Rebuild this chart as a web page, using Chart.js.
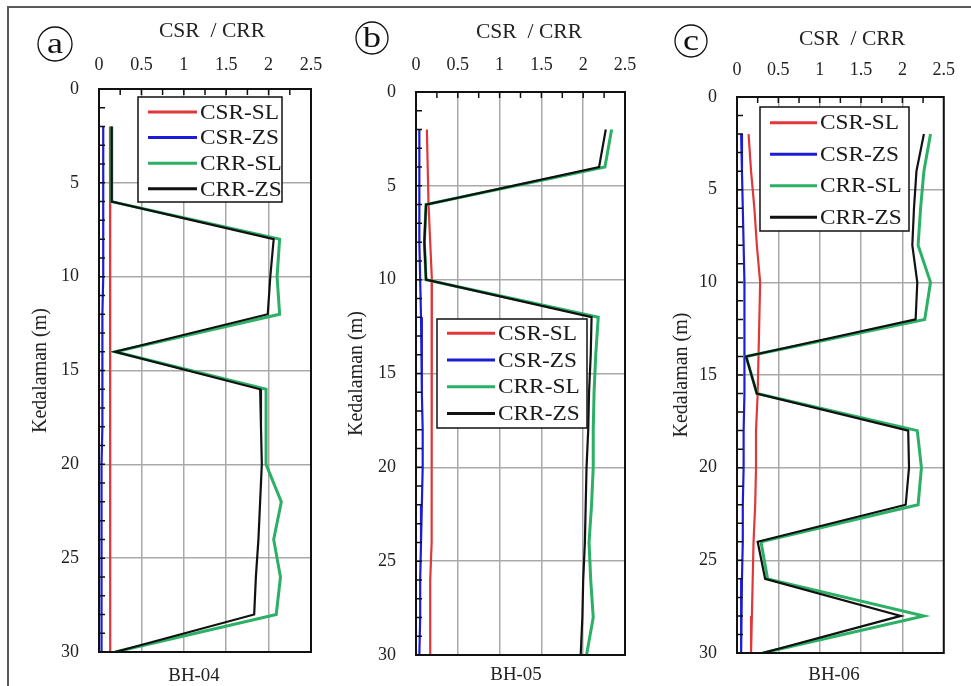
<!DOCTYPE html>
<html>
<head>
<meta charset="utf-8">
<script src="https://cdn.jsdelivr.net/npm/chart.js@4.4.1/dist/chart.umd.min.js"></script>
<style>
  body { margin: 0; background: #fff; }
  #frame { position: absolute; left: 7px; top: 6px; width: 1000px; height: 720px;
           border-top: 2px solid #5a5a5a; border-left: 2px solid #5a5a5a; }
  canvas { position: absolute; left: 0; top: 0; }
</style>
</head>
<body>
<div id="frame"></div>
<canvas id="bh04" width="971" height="686"></canvas>
<canvas id="bh05" width="971" height="686"></canvas>
<canvas id="bh06" width="971" height="686"></canvas>
<script>
// depth (m) of each reading
const depth = [2, 4, 6, 8, 10, 12, 14, 16, 18, 20, 22, 24, 26, 28, 30];
const seriesNames = ['CSR-SL', 'CSR-ZS', 'CRR-SL', 'CRR-ZS'];
const seriesColors = ['#e0383a', '#1c1cd6', '#2bb066', '#111111'];
const seriesWidths = [2.2, 2.2, 3, 2.2];
const seriesOrder = [2, 3, 1, 0];

// BH-04
const bh04CsrSL = [0.13, 0.13, 0.14, 0.14, 0.14, 0.13, 0.13, 0.13, 0.13, 0.13, 0.13, 0.13, 0.13, 0.13, 0.13];
const bh04CsrZS = [0.05, 0.05, 0.05, 0.05, 0.05, 0.04, 0.04, 0.04, 0.04, 0.03, 0.03, 0.03, 0.03, 0.03, 0.03];
const bh04CrrSL = [0.15, 0.15, 0.15, 2.13, 2.10, 2.13, 0.19, 1.97, 1.97, 1.97, 2.15, 2.06, 2.14, 2.09, 0.19];
const bh04CrrZS = [0.15, 0.15, 0.15, 2.06, 2.02, 1.99, 0.19, 1.90, 1.91, 1.92, 1.90, 1.88, 1.85, 1.83, 0.19];

// BH-05
const bh05CsrSL = [0.13, 0.14, 0.15, 0.17, 0.19, 0.19, 0.19, 0.19, 0.19, 0.19, 0.18, 0.18, 0.17, 0.17, 0.17];
const bh05CsrZS = [0.04, 0.04, 0.04, 0.04, 0.05, 0.06, 0.07, 0.07, 0.08, 0.08, 0.07, 0.06, 0.05, 0.05, 0.04];
const bh05CrrSL = [2.34, 2.26, 0.12, 0.10, 0.12, 2.18, 2.15, 2.13, 2.12, 2.12, 2.10, 2.07, 2.09, 2.12, 2.04];
const bh05CrrZS = [2.27, 2.19, 0.12, 0.10, 0.12, 2.10, 2.09, 2.07, 2.06, 2.04, 2.03, 2.02, 2.00, 1.99, 1.97];

// BH-06
const bh06CsrSL = [0.14, 0.17, 0.21, 0.24, 0.28, 0.27, 0.26, 0.25, 0.23, 0.23, 0.22, 0.20, 0.19, 0.18, 0.17];
const bh06CsrZS = [0.05, 0.06, 0.07, 0.08, 0.09, 0.09, 0.09, 0.09, 0.08, 0.08, 0.07, 0.07, 0.06, 0.05, 0.05];
const bh06CrrSL = [2.34, 2.26, 2.22, 2.19, 2.34, 2.27, 0.11, 0.24, 2.18, 2.23, 2.19, 0.29, 0.37, 2.26, 0.31];
const bh06CrrZS = [2.26, 2.17, 2.14, 2.12, 2.18, 2.16, 0.11, 0.24, 2.07, 2.08, 2.04, 0.25, 0.34, 1.98, 0.31];

const serif = "'Liberation Serif', 'Times New Roman', serif";

function stretchText(ctx, text, x, y, sx) {
    ctx.save();
    ctx.translate(x, y);
    ctx.scale(sx, 1);
    ctx.fillText(text, 0, 0);
    ctx.restore();
}

// frame, inward minor ticks, legend box and panel captions
const panelDecor = {
    id: 'panelDecor',
    afterDraw(chart, args, o) {
        const ctx = chart.ctx;
        const a = chart.chartArea;
        const xs = chart.scales.x, ys = chart.scales.y;
        ctx.save();
        ctx.strokeStyle = '#111';
        ctx.lineWidth = 1.5;
        ctx.beginPath();
        for (let v = 0.25; v < 2.5; v += 0.25) {
            const px = xs.getPixelForValue(v);
            ctx.moveTo(px, a.top);
            ctx.lineTo(px, a.top + 6);
        }
        for (let d = 1; d < 30; d++) {
            const py = ys.getPixelForValue(d);
            ctx.moveTo(a.left, py);
            ctx.lineTo(a.left + 6, py);
        }
        ctx.stroke();
        ctx.lineWidth = 2;
        ctx.strokeRect(a.left, a.top, a.right - a.left, a.bottom - a.top);

        // legend
        const lg = o.legend;
        ctx.fillStyle = '#fff';
        ctx.fillRect(lg.x, lg.y, lg.w, lg.h);
        ctx.lineWidth = 1.5;
        ctx.strokeStyle = '#111';
        ctx.strokeRect(lg.x, lg.y, lg.w, lg.h);
        ctx.font = '22px ' + serif;
        ctx.textBaseline = 'middle';
        ctx.textAlign = 'left';
        chart.data.datasets.forEach((ds, i) => {
            const y = lg.y + lg.first + i * lg.gap;
            ctx.strokeStyle = ds.borderColor;
            ctx.lineWidth = 3;
            ctx.beginPath();
            ctx.moveTo(lg.l1, y);
            ctx.lineTo(lg.l2, y);
            ctx.stroke();
            ctx.fillStyle = '#1a1a1a';
            stretchText(ctx, ds.label, lg.tx, y + 1, 1.06);
        });

        // circled panel letter
        const lt = o.letter;
        ctx.strokeStyle = '#111';
        ctx.lineWidth = 1.3;
        ctx.beginPath();
        ctx.arc(lt.x, lt.y, lt.r, 0, Math.PI * 2);
        ctx.stroke();
        ctx.fillStyle = '#111';
        ctx.textAlign = 'center';
        ctx.font = '30px ' + serif;
        stretchText(ctx, lt.ch, lt.x, lt.y + 1, 1.2);

        // axis title and borehole name
        ctx.fillStyle = '#222';
        ctx.font = '20px ' + serif;
        stretchText(ctx, 'CSR  / CRR', o.title.x, o.title.y, 1.08);
        ctx.font = '18px ' + serif;
        stretchText(ctx, o.label.text, o.label.x, o.label.y, 1.05);
        ctx.restore();
    }
};

function makeChart(id, values, p) {
    const datasets = seriesNames.map((name, i) => ({
        label: name,
        data: depth.map((d, k) => ({ x: values[i][k], y: d })),
        showLine: true,
        borderColor: seriesColors[i],
        backgroundColor: seriesColors[i],
        borderWidth: seriesWidths[i],
        pointRadius: 0,
        tension: 0,
        order: seriesOrder[i]
    }));
    return new Chart(document.getElementById(id), {
        type: 'scatter',
        data: { datasets: datasets },
        options: {
            responsive: false,
            animation: false,
            events: [],
            layout: {
                padding: {
                    left: p.left - p.yAxisWidth,
                    top: p.top - 40,
                    right: 971 - p.right,
                    bottom: 686 - p.bottom
                }
            },
            plugins: {
                legend: { display: false },
                tooltip: { enabled: false },
                panelDecor: p
            },
            scales: {
                x: {
                    type: 'linear',
                    position: 'top',
                    min: 0,
                    max: 2.5,
                    ticks: {
                        stepSize: 0.5,
                        padding: p.xTickPad,
                        maxRotation: 0,
                        color: '#222',
                        font: { family: serif, size: 18 },
                        callback: v => String(v)
                    },
                    grid: { color: '#a9a9a9', lineWidth: 1.5, drawTicks: false },
                    border: { display: false },
                    afterFit: s => { s.height = 40; }
                },
                y: {
                    type: 'linear',
                    reverse: true,
                    min: 0,
                    max: 30,
                    ticks: {
                        stepSize: 5,
                        padding: 20,
                        color: '#222',
                        font: { family: serif, size: 18 }
                    },
                    grid: { color: '#a9a9a9', lineWidth: 1.5, drawTicks: false },
                    border: { display: false },
                    title: {
                        display: true,
                        text: 'Kedalaman (m)',
                        color: '#222',
                        padding: 0,
                        font: { family: serif, size: 20 }
                    },
                    afterFit: s => { s.width = p.yAxisWidth; }
                }
            }
        },
        plugins: [panelDecor]
    });
}

makeChart('bh04', [bh04CsrSL, bh04CsrZS, bh04CrrSL, bh04CrrZS], {
    left: 99, top: 89, right: 311, bottom: 652, yAxisWidth: 70, xTickPad: 13,
    legend: { x: 138, y: 97, w: 144, h: 105, first: 15, gap: 25.6, l1: 148, l2: 197, tx: 200 },
    letter: { x: 55, y: 44, r: 17, ch: 'a' },
    title: { x: 212, y: 32 },
    label: { text: 'BH-04', x: 194, y: 676 }
});

makeChart('bh05', [bh05CsrSL, bh05CsrZS, bh05CrrSL, bh05CrrZS], {
    left: 416, top: 92, right: 625, bottom: 655, yAxisWidth: 71, xTickPad: 16,
    legend: { x: 437, y: 319, w: 150, h: 109, first: 14.3, gap: 26.7, l1: 447, l2: 495, tx: 498 },
    letter: { x: 372, y: 38, r: 16, ch: 'b' },
    title: { x: 529, y: 33 },
    label: { text: 'BH-05', x: 516, y: 675 }
});

makeChart('bh06', [bh06CsrSL, bh06CsrZS, bh06CrrSL, bh06CrrZS], {
    left: 737, top: 97, right: 945, bottom: 653, yAxisWidth: 67, xTickPad: 16,
    legend: { x: 760, y: 107, w: 149, h: 124, first: 15.7, gap: 31.5, l1: 770, l2: 817, tx: 820 },
    letter: { x: 691, y: 41, r: 16, ch: 'c' },
    title: { x: 852, y: 40 },
    label: { text: 'BH-06', x: 834, y: 675 }
});
</script>
</body>
</html>
